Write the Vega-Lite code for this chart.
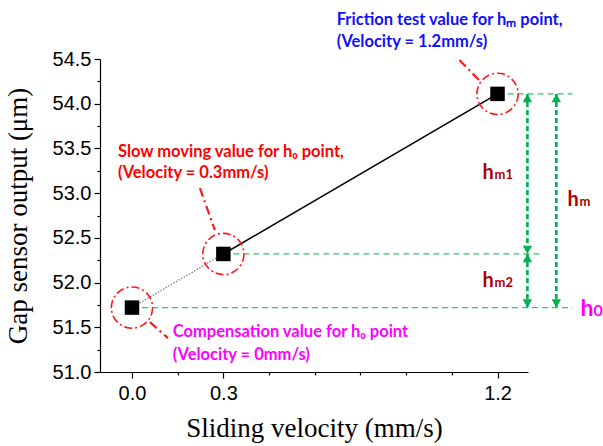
{
  "$schema": "https://vega.github.io/schema/vega-lite/v6.json",
  "width": 428,
  "height": 313,
  "autosize": "none",
  "padding": {"left": 100, "top": 59, "right": 75, "bottom": 74},
  "background": "white",
  "config": {
    "view": {"stroke": null},
    "axis": {
      "domainColor": "black",
      "domainWidth": 1.2,
      "tickColor": "black",
      "tickWidth": 1.2,
      "grid": false,
      "labelFont": "Liberation Sans",
      "labelFontSize": 20,
      "labelColor": "black",
      "titleFont": "Liberation Serif",
      "titleFontSize": 27,
      "titleFontWeight": "normal",
      "titleColor": "black"
    }
  },
  "datasets": {
    "points": [
      {"x": 0.0, "y": 51.72},
      {"x": 0.3, "y": 52.32},
      {"x": 1.2, "y": 54.11}
    ],
    "segments": [
      {"x": 0.0, "y": 51.72, "x2": 0.3, "y2": 52.32, "kind": "extrapolated"},
      {"x": 0.3, "y": 52.32, "x2": 1.2, "y2": 54.11, "kind": "measured"}
    ],
    "levels": [
      {"x": 1.2, "x2": 1.446, "y": 54.11},
      {"x": 0.3, "x2": 1.348, "y": 52.32},
      {"x": 0.0, "x2": 1.446, "y": 51.72}
    ],
    "spans": [
      {"x": 1.298, "y": 54.11, "y2": 52.32, "name": "hm1"},
      {"x": 1.298, "y": 52.32, "y2": 51.72, "name": "hm2"},
      {"x": 1.393, "y": 54.11, "y2": 51.72, "name": "hm"}
    ],
    "headsUp": [
      {"x": 1.298, "y": 54.11},
      {"x": 1.298, "y": 52.32},
      {"x": 1.393, "y": 54.11}
    ],
    "headsDown": [
      {"x": 1.298, "y": 52.32},
      {"x": 1.298, "y": 51.72},
      {"x": 1.393, "y": 51.72}
    ],
    "leaders": [
      {"x": 1.075, "y": 54.489, "x2": 1.148, "y2": 54.232},
      {"x": 0.223, "y": 53.057, "x2": 0.272, "y2": 52.587},
      {"x": 0.059, "y": 51.558, "x2": 0.118, "y2": 51.379}
    ],
    "notes": [
      {"x": 0.672, "y": 54.88, "text": "Friction test value for hₘ point,", "group": "friction"},
      {"x": 0.672, "y": 54.634, "text": "(Velocity = 1.2mm/s)", "group": "friction"},
      {"x": -0.046, "y": 53.404, "text": "Slow moving value for h₀ point,", "group": "slow"},
      {"x": -0.046, "y": 53.169, "text": "(Velocity = 0.3mm/s)", "group": "slow"},
      {"x": 0.134, "y": 51.39, "text": "Compensation value for h₀ point", "group": "compensation"},
      {"x": 0.134, "y": 51.133, "text": "(Velocity = 0mm/s)", "group": "compensation"}
    ],
    "heights": [
      {"x": 1.151, "y": 53.158, "h": "h", "sub": "m1"},
      {"x": 1.151, "y": 51.95, "h": "h", "sub": "m2"},
      {"x": 1.43, "y": 52.856, "h": "h", "sub": "m"}
    ],
    "base": [
      {"x": 1.472, "y": 51.625, "h": "h", "sub": "0"}
    ]
  },
  "encoding": {
    "x": {"field": "x", "type": "quantitative", "scale": {"domain": [-0.105, 1.3], "nice": false, "zero": false}, "axis": null},
    "y": {"field": "y", "type": "quantitative", "scale": {"domain": [51, 54.5], "nice": false, "zero": false}, "axis": null}
  },
  "layer": [
    {
      "data": {"name": "points"},
      "mark": {"type": "point", "opacity": 0},
      "encoding": {
        "x": {"field": "x", "type": "quantitative", "scale": {"domain": [-0.105, 1.3], "nice": false, "zero": false},
          "axis": {"orient": "bottom", "values": [0.15, 0.45, 0.6, 0.75, 0.9, 1.05], "labels": false, "tickSize": 3, "domain": false, "title": null}},
        "y": {"field": "y", "type": "quantitative", "scale": {"domain": [51, 54.5], "nice": false, "zero": false},
          "axis": {"orient": "left", "values": [51.25, 51.75, 52.25, 52.75, 53.25, 53.75, 54.25], "labels": false, "tickSize": 3, "domain": false, "title": null}}
      }
    },
    {
      "data": {"name": "levels"},
      "mark": {"type": "rule", "color": "#2ec866", "strokeWidth": 1.2, "strokeDash": [6, 4]},
      "encoding": {"x2": {"field": "x2"}}
    },
    {
      "data": {"name": "segments"},
      "transform": [{"filter": "datum.kind === 'extrapolated'"}],
      "mark": {"type": "rule", "color": "#777777", "strokeWidth": 1.2, "strokeDash": [1.5, 1.5]},
      "encoding": {"x2": {"field": "x2"}, "y2": {"field": "y2"}}
    },
    {
      "data": {"name": "segments"},
      "transform": [{"filter": "datum.kind === 'measured'"}],
      "mark": {"type": "rule", "color": "black", "strokeWidth": 1.6},
      "encoding": {"x2": {"field": "x2"}, "y2": {"field": "y2"}}
    },
    {
      "data": {"name": "spans"},
      "mark": {"type": "rule", "color": "#00b050", "strokeWidth": 2.6, "strokeDash": [5, 3]},
      "encoding": {"y2": {"field": "y2"}}
    },
    {
      "data": {"name": "headsUp"},
      "mark": {"type": "point", "shape": "triangle-up", "filled": true, "color": "#00b050", "size": 90, "opacity": 1, "yOffset": 4.2}
    },
    {
      "data": {"name": "headsDown"},
      "mark": {"type": "point", "shape": "triangle-down", "filled": true, "color": "#00b050", "size": 90, "opacity": 1, "yOffset": -4.2}
    },
    {
      "data": {"name": "leaders"},
      "mark": {"type": "rule", "color": "#ff1a1a", "strokeWidth": 2.2, "strokeDash": [9, 4, 2, 4]},
      "encoding": {"x2": {"field": "x2"}, "y2": {"field": "y2"}}
    },
    {
      "data": {"name": "points"},
      "mark": {"type": "point", "shape": "circle", "filled": false, "stroke": "#ff1a1a", "strokeWidth": 1.6, "strokeDash": [8, 3, 2, 3], "size": 1700, "opacity": 1}
    },
    {
      "data": {"name": "points"},
      "mark": {"type": "point", "shape": "square", "filled": true, "color": "black", "size": 210, "opacity": 1},
      "encoding": {
        "x": {"field": "x", "type": "quantitative", "scale": {"domain": [-0.105, 1.3], "nice": false, "zero": false},
          "axis": {"orient": "bottom", "values": [0, 0.3, 1.2], "format": ".1f", "tickSize": 6, "labelPadding": 5, "title": "Sliding velocity (mm/s)", "titlePadding": 12}},
        "y": {"field": "y", "type": "quantitative", "scale": {"domain": [51, 54.5], "nice": false, "zero": false},
          "axis": {"orient": "left", "values": [51, 51.5, 52, 52.5, 53, 53.5, 54, 54.5], "format": ".1f", "tickSize": 6, "labelPadding": 3, "title": "Gap sensor output (μm)", "titlePadding": 20}}
      }
    },
    {
      "data": {"name": "notes"},
      "transform": [{"filter": "datum.group === 'friction'"}],
      "mark": {"type": "text", "align": "left", "baseline": "alphabetic", "font": "Lato", "fontWeight": "bold", "fontSize": 16.5, "color": "#1010ff"},
      "encoding": {"text": {"field": "text"}}
    },
    {
      "data": {"name": "notes"},
      "transform": [{"filter": "datum.group === 'slow'"}],
      "mark": {"type": "text", "align": "left", "baseline": "alphabetic", "font": "Lato", "fontWeight": "bold", "fontSize": 16.5, "color": "#ff0000"},
      "encoding": {"text": {"field": "text"}}
    },
    {
      "data": {"name": "notes"},
      "transform": [{"filter": "datum.group === 'compensation'"}],
      "mark": {"type": "text", "align": "left", "baseline": "alphabetic", "font": "Lato", "fontWeight": "bold", "fontSize": 16.5, "color": "#ff00ff"},
      "encoding": {"text": {"field": "text"}}
    },
    {
      "data": {"name": "heights"},
      "mark": {"type": "text", "align": "left", "baseline": "alphabetic", "font": "Lato", "fontWeight": "bold", "fontSize": 20, "color": "#b00000"},
      "encoding": {"text": {"field": "h"}}
    },
    {
      "data": {"name": "heights"},
      "mark": {"type": "text", "align": "left", "baseline": "alphabetic", "font": "Lato", "fontWeight": "bold", "fontSize": 13, "color": "#b00000", "dx": 12},
      "encoding": {"text": {"field": "sub"}}
    },
    {
      "data": {"name": "base"},
      "mark": {"type": "text", "align": "left", "baseline": "alphabetic", "font": "Lato", "fontWeight": "bold", "fontSize": 23, "color": "#ff00ff"},
      "encoding": {"text": {"field": "h"}}
    },
    {
      "data": {"name": "base"},
      "mark": {"type": "text", "align": "left", "baseline": "alphabetic", "font": "Lato", "fontWeight": "bold", "fontSize": 16, "color": "#ff00ff", "dx": 13},
      "encoding": {"text": {"field": "sub"}}
    }
  ],
  "resolve": {"axis": {"x": "independent", "y": "independent"}}
}
